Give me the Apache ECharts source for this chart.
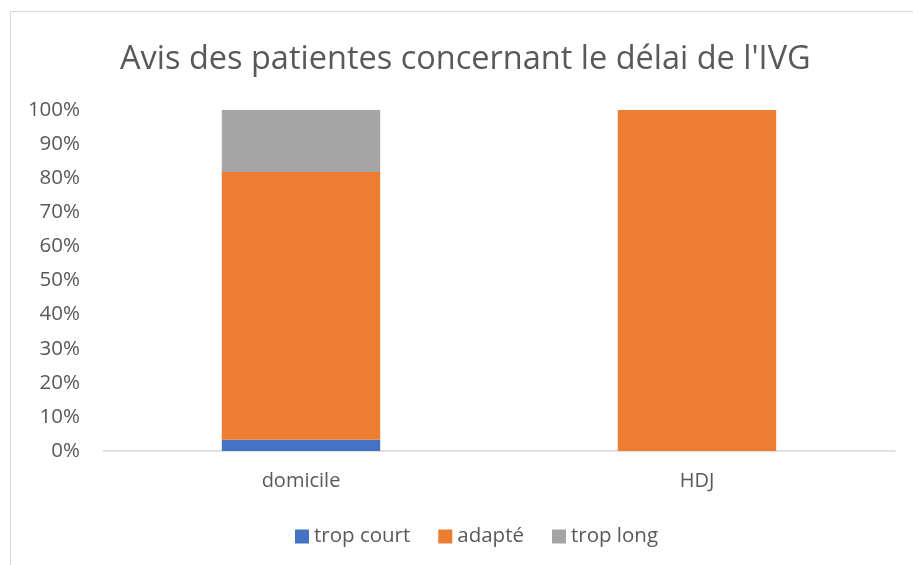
<!DOCTYPE html>
<html>
<head>
<meta charset="utf-8">
<script src="https://cdn.jsdelivr.net/npm/echarts@6/dist/echarts.min.js"></script>
<style>
    html, body { margin: 0; padding: 0; background: #fff; }
    #main { width: 913px; height: 565px; }
</style>
</head>
<body>
<div id="main"></div>
<script>
var categories = ['domicile', 'HDJ'];
var seriesNames = ['trop court', 'adapté', 'trop long'];
var tropCourt = [3.3, 0];
var adapte = [78.5, 100];
var tropLong = [18.2, 0];
var colors = ['#4472C4', '#ED7D31', '#A5A5A5'];

~function () {
    var myChart = echarts.init(document.getElementById('main'));
    var textColor = '#595959';
    var font = 'Open Sans';
    var values = [tropCourt, adapte, tropLong];
    var series = seriesNames.map(function (name, i) {
        return {
            name: name,
            type: 'bar',
            stack: 'total',
            barWidth: '40%',
            itemStyle: {color: colors[i]},
            data: values[i]
        };
    });
    var option = {
        animation: false,
        title: {
            text: "Avis des patientes concernant le délai de l'IVG",
            left: 115,
            top: 38,
            textStyle: {
                fontSize: 32.5,
                fontWeight: 'normal',
                color: textColor,
                fontFamily: font
            }
        },
        graphic: [{
            type: 'rect',
            shape: {x: 10.5, y: 11.5, width: 920, height: 570},
            style: {fill: 'none', stroke: '#d9d9d9', lineWidth: 1}
        }],
        legend: {
            data: seriesNames,
            bottom: 13,
            left: 290,
            itemWidth: 14,
            itemHeight: 14,
            itemGap: 28,
            icon: 'rect',
            textStyle: {fontSize: 20.5, color: textColor, fontFamily: font}
        },
        grid: {
            left: 103,
            right: 18,
            top: 110,
            bottom: 114,
            containLabel: false
        },
        xAxis: {
            type: 'category',
            data: categories,
            axisLine: {lineStyle: {color: '#d9d9d9', width: 1.5}},
            axisTick: {show: false},
            axisLabel: {fontSize: 20, color: textColor, fontFamily: font, margin: 20}
        },
        yAxis: {
            type: 'value',
            min: 0,
            max: 100,
            interval: 10,
            axisLine: {show: false},
            axisTick: {show: false},
            splitLine: {show: false},
            axisLabel: {
                fontSize: 20.5,
                color: textColor,
                fontFamily: font,
                margin: 23,
                formatter: '{value}%'
            }
        },
        series: series
    };
    myChart.setOption(option);
}();
</script>
</body>
</html>
